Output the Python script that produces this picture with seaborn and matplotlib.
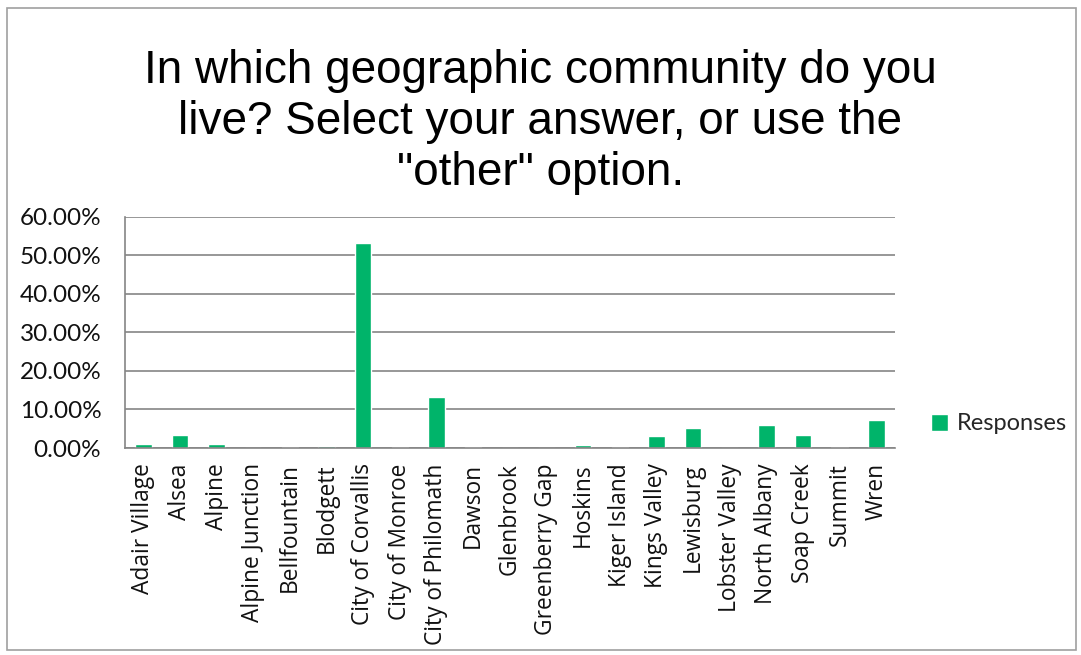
import matplotlib
matplotlib.use("Agg")
import matplotlib.pyplot as plt
import seaborn as sns
import pandas as pd
from matplotlib.patches import Rectangle
from matplotlib.ticker import FuncFormatter, FixedLocator

categories = ["Adair Village", "Alsea", "Alpine", "Alpine Junction", "Bellfountain",
              "Blodgett", "City of Corvallis", "City of Monroe", "City of Philomath",
              "Dawson", "Glenbrook", "Greenberry Gap", "Hoskins", "Kiger Island",
              "Kings Valley", "Lewisburg", "Lobster Valley", "North Albany",
              "Soap Creek", "Summit", "Wren"]
responses = [1.0, 3.4, 1.0, 0.0, 0.2, 0.4, 53.1, 0.3, 13.3, 0.2, 0.1, 0.0,
             0.7, 0.2, 3.1, 5.3, 0.0, 6.0, 3.4, 0.3, 7.3]
y_ticks = [0, 10, 20, 30, 40, 50, 60]
series_name = "Responses"
title = 'In which geographic community do you\nlive? Select your answer, or use the\n"other" option.'

df = pd.DataFrame({"Community": categories, "Value": responses, "Series": series_name})

sns.set_style("white")
plt.rcParams["font.family"] = ["Lato", "DejaVu Sans"]

fig = plt.figure(figsize=(10.81, 6.55), dpi=100)
ax = fig.add_axes([0.1156, 0.316, 0.712, 0.353])

green = "#00B46A"
sns.barplot(data=df, x="Community", y="Value", hue="Series", palette=[green],
            width=0.45, saturation=1, ax=ax, legend=True)

ax.set_ylim(0, 60)
ax.set_xlim(-0.5, len(categories) - 0.5)
ax.yaxis.set_major_locator(FixedLocator(y_ticks))
ax.yaxis.set_major_formatter(FuncFormatter(lambda v, p: f"{v:.2f}%"))
ax.grid(axis="y", color="#858585", linewidth=1.2)
ax.set_axisbelow(True)
for s in ["top", "right"]:
    ax.spines[s].set_visible(False)
for s in ["left", "bottom"]:
    ax.spines[s].set_color("#858585")
    ax.spines[s].set_linewidth(1.2)

ax.set_xlabel("")
ax.set_ylabel("")
ax.set_xticks(range(len(categories)))
ax.set_xticklabels(categories, rotation=90, fontsize=16.4, color="#111111",
                   family=["Open Sans", "DejaVu Sans"])
ax.tick_params(axis="x", length=0, pad=11)
ax.set_xticks([i - 0.5 for i in range(len(categories) + 1)], minor=True)
ax.tick_params(axis="x", which="minor", length=6, color="#858585", width=1.2, direction="out")
ax.tick_params(axis="y", labelsize=17.5, length=6, color="#858585", width=1.2,
               direction="out", labelcolor="#111111", pad=11)

leg = ax.legend(loc="center left", bbox_to_anchor=(1.02, 0.104), frameon=False,
                fontsize=17, handlelength=0.72, handleheight=0.72, handletextpad=0.35)

fig.text(0.5, 0.925, title, ha="center", va="top", fontsize=33,
         family=["Liberation Sans", "DejaVu Sans"], linespacing=1.2, color="#000000")

fig.patches.append(Rectangle((7 / 1081, 5 / 655), 1069 / 1081, 642 / 655,
                             transform=fig.transFigure, fill=False,
                             edgecolor="#A0A0A0", linewidth=1.2))

fig.savefig("out.png", dpi=100, facecolor="white")
